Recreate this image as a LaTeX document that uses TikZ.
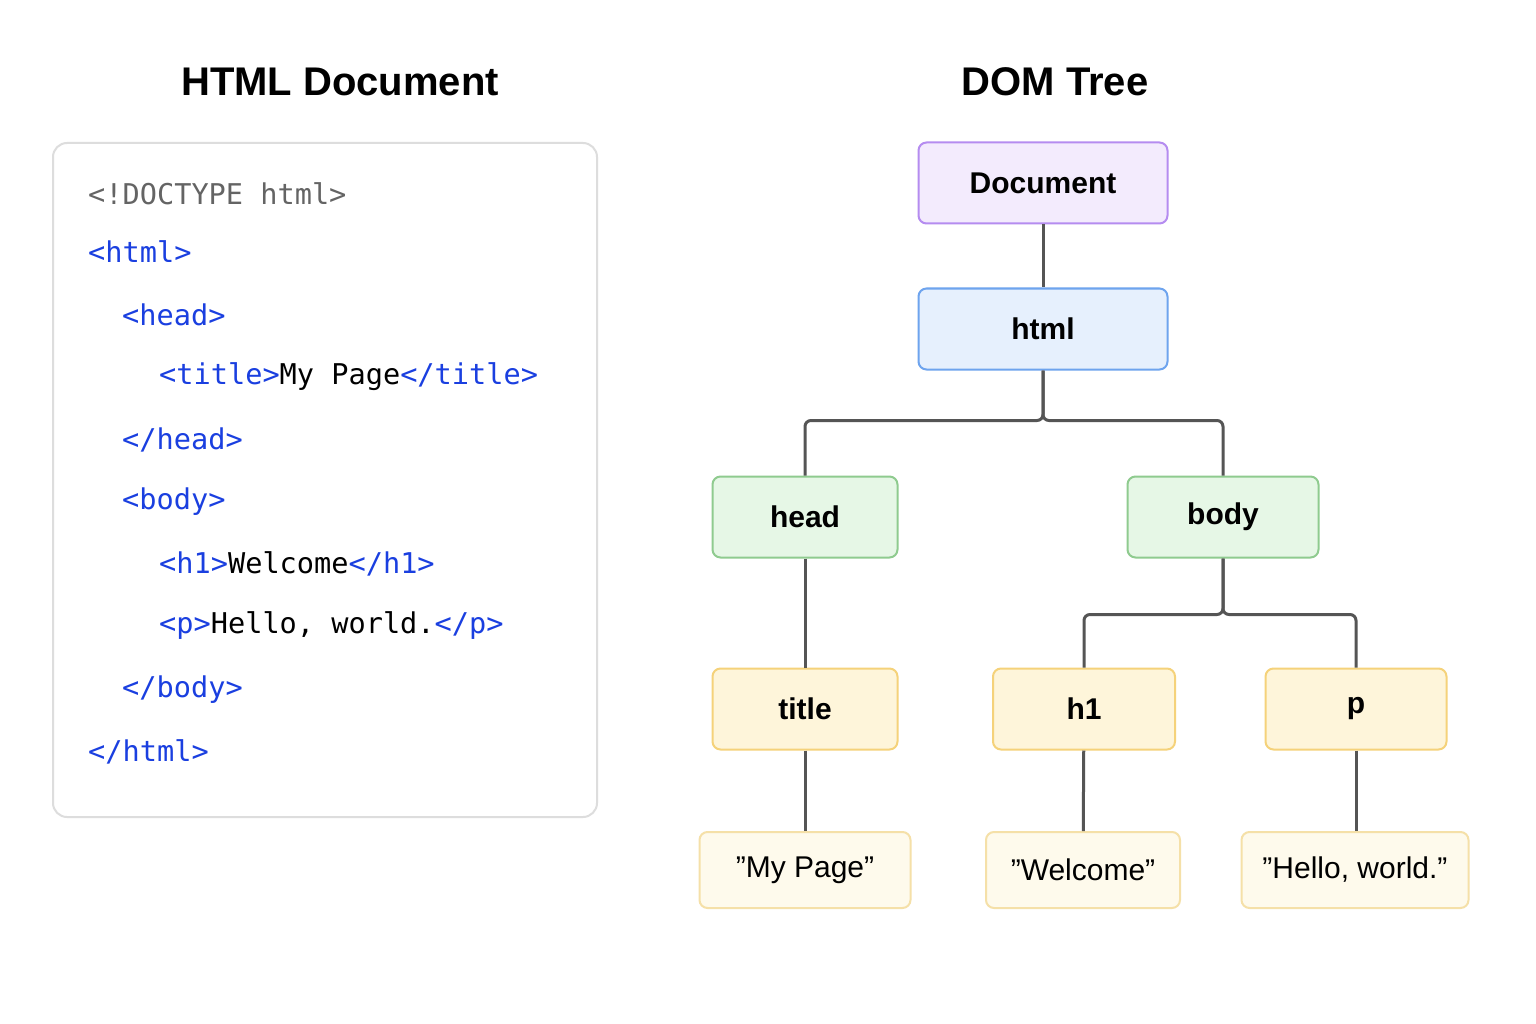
\documentclass[tikz,border=0pt]{standalone}
\usepackage{fontspec}
\setmainfont{Liberation Sans}
\setmonofont{DejaVu Sans Mono}
\begin{document}
\begin{tikzpicture}[x=1pt,y=-1pt,
  box/.style={draw,rounded corners=8pt,line width=2pt,minimum height=81pt,font=\fontsize{30}{36}\selectfont\bfseries},
  doc/.style={box,fill=purple!0!white,fill={rgb,255:red,243;green,235;blue,253},draw={rgb,255:red,181;green,140;blue,240}},
  htm/.style={box,fill={rgb,255:red,230;green,240;blue,253},draw={rgb,255:red,110;green,164;blue,238}},
  grn/.style={box,fill={rgb,255:red,230;green,247;blue,230},draw={rgb,255:red,143;green,203;blue,143}},
  yel/.style={box,fill={rgb,255:red,254;green,245;blue,218},draw={rgb,255:red,245;green,210;blue,122}},
  txt/.style={box,minimum height=76pt,font=\fontsize{30}{36}\selectfont,fill={rgb,255:red,254;green,250;blue,236},draw={rgb,255:red,245;green,224;blue,168}},
  con/.style={draw={rgb,255:red,85;green,85;blue,85},line width=3pt,rounded corners=6pt},
  code/.style={anchor=west,font=\fontsize{28.6}{34}\ttfamily,inner sep=0pt},
  ttl/.style={font=\fontsize{40}{48}\selectfont\bfseries}]
\definecolor{tag}{RGB}{26,63,224}
\definecolor{dt}{RGB}{100,100,100}
\useasboundingbox[fill=white] (0,0) rectangle (1536,1024);
\node[ttl] (t1) at (340,82) {HTML Document};
\node[ttl] (t2) at (1055,82) {DOM Tree};
\draw[rounded corners=14pt,line width=2pt,draw={rgb,255:red,221;green,221;blue,221}] (53,143) rectangle (597,817);
\node[code,text=dt] (c1) at (88,194) {<!DOCTYPE html>};
\node[code,text=tag] (c2) at (88,252) {<html>};
\node[code,text=tag] (c3) at (122,315) {<head>};
\node[code,text=tag] (c4) at (159,377) {<title>\textcolor{black}{My Page}</title>};
\node[code,text=tag] (c5) at (122,440) {</head>};
\node[code,text=tag] (c6) at (122,502) {<body>};
\node[code,text=tag] (c7) at (159,564) {<h1>\textcolor{black}{Welcome}</h1>};
\node[code,text=tag] (c8) at (159,626) {<p>\textcolor{black}{Hello, world.}</p>};
\node[code,text=tag] (c9) at (122,690) {</body>};
\node[code,text=tag] (c10) at (88,752) {</html>};
\node[doc,minimum width=249pt] (document) at (1043,183) {Document};
\node[htm,minimum width=249pt] (html) at (1043,329) {html};
\node[grn,minimum width=185pt] (head) at (805,517) {head};
\node[grn,minimum width=191pt] (body) at (1223,517) {body};
\node[yel,minimum width=185pt] (title) at (805,709) {title};
\node[yel,minimum width=182pt] (h1) at (1084,709) {h1};
\node[yel,minimum width=181pt] (p) at (1356,709) {p};
\node[txt,minimum width=211pt] (s1) at (805,870) {"My Page"};
\node[txt,minimum width=194pt] (s2) at (1083,870) {"Welcome"};
\node[txt,minimum width=227pt] (s3) at (1355,870) {"Hello, world."};
\begin{scope}[on background layer/.style={}]
\path[con] (document) -- (html);
\path[con] (html.south) -- ++(0,50) -| (head.north);
\path[con] (html.south) -- ++(0,50) -| (body.north);
\path[con] (body.south) -- ++(0,56) -| (h1.north);
\path[con] (body.south) -- ++(0,56) -| (p.north);
\path[con] (head) -- (title);
\path[con] (title) -- (s1);
\path[con] (h1) -- (s2);
\path[con] (p) -- (s3.north -| p.south);
\end{scope}
\end{tikzpicture}
\end{document}
